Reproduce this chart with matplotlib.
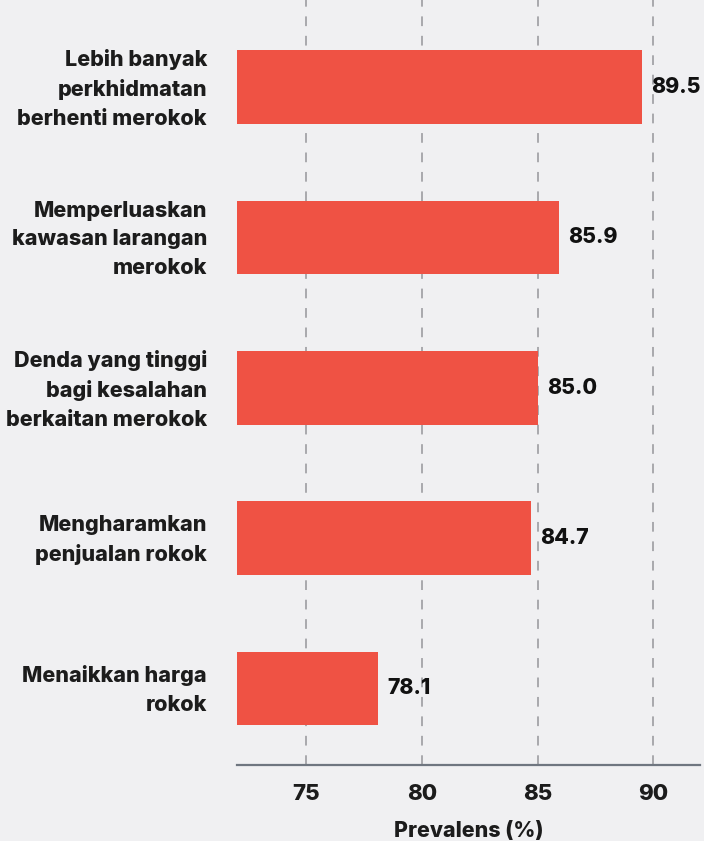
import matplotlib
matplotlib.use("Agg")
import matplotlib.pyplot as plt
from matplotlib.transforms import ScaledTranslation

# data, top to bottom
labels = [
    "Lebih banyak\nperkhidmatan\nberhenti merokok",
    "Memperluaskan\nkawasan larangan\nmerokok",
    "Denda yang tinggi\nbagi kesalahan\nberkaitan merokok",
    "Mengharamkan\npenjualan rokok",
    "Menaikkan harga\nrokok",
]
values = [89.5, 85.9, 85.0, 84.7, 78.1]
xticks = [75, 80, 85, 90]

bg = "#f0f0f2"
bar_color = "#ef5244"
text_color = "#1c1c1c"
weight = "heavy"

plt.rcParams["font.family"] = ["Inter", "DejaVu Sans"]

fig = plt.figure(figsize=(7.04, 8.41), dpi=100, facecolor=bg)
ax = fig.add_axes([0.3366, 0.0904, 0.6574, 0.9096])
ax.set_facecolor(bg)

pos = list(range(len(values)))
ax.barh(pos, values, height=0.49, color=bar_color, zorder=3)

for p, v in zip(pos, values):
    ax.text(v + 0.4, p, f"{v:.1f}", va="center", ha="left",
            fontsize=15.3, fontweight=weight, color="#111111", zorder=4)

ax.set_xlim(72, 92)
ax.set_ylim(4.51, -0.58)
ax.set_xticks(xticks)
ax.set_xticklabels([str(t) for t in xticks], fontsize=16, fontweight=weight, color=text_color)
ax.set_yticks([])

# category labels as text, shifted left of the axis
lab_tr = ax.get_yaxis_transform() + ScaledTranslation(-30 / 100, -2 / 100, fig.dpi_scale_trans)
for p, lab in zip(pos, labels):
    ax.text(0, p, lab, transform=lab_tr, ha="right", va="center",
            fontsize=15.5, fontweight=weight, color=text_color, linespacing=1.55)

ax.tick_params(axis="both", length=0)
ax.tick_params(axis="x", pad=14)

ax.grid(axis="x", color="#a9a9ad", linestyle=(0, (5, 5)), linewidth=1.4, zorder=1)
ax.grid(axis="y", visible=False)

for side in ["top", "right", "left"]:
    ax.spines[side].set_visible(False)
ax.spines["bottom"].set_color("#6f7680")
ax.spines["bottom"].set_linewidth(1.6)

ax.set_xlabel("Prevalens (%)", fontsize=15.4, fontweight=weight, color=text_color, labelpad=12)

fig.savefig("out.png", dpi=100, facecolor=bg)
